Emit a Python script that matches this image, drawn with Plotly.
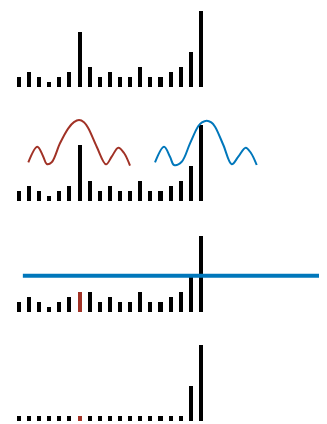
import plotly.graph_objects as go

# Data
categories = list(range(19))
values_1 = [2, 3, 2, 1, 2, 3, 11, 4, 2, 3, 2, 2, 4, 2, 2, 3, 4, 7, 15]
values_2 = [2, 3, 2, 1, 2, 3, 11, 4, 2, 3, 2, 2, 4, 2, 2, 3, 4, 7, 15]
values_3 = [2, 3, 2, 1, 2, 3, 4, 4, 2, 3, 2, 2, 4, 2, 2, 3, 4, 7, 15]
values_4 = [1, 1, 1, 1, 1, 1, 1, 1, 1, 1, 1, 1, 1, 1, 1, 1, 1, 7, 15]
highlight_index = 6

red_curve_x = [0.94, 1.83, 2.42, 2.76, 3.25, 4.07, 4.89, 5.45, 5.95, 6.44, 6.87, 7.70, 8.62, 9.18, 9.83, 10.40, 10.99]
red_curve_y = [7.63, 10.71, 8.74, 7.30, 7.63, 11.38, 14.34, 15.55, 15.98, 15.55, 14.34, 10.71, 7.24, 8.74, 10.51, 9.47, 6.96]
blue_curve_x = [13.46, 14.35, 14.94, 15.34, 16.10, 16.92, 17.74, 18.10, 18.57, 19.02, 19.39, 20.21, 21.04, 21.69, 22.42, 22.94, 23.51]
blue_curve_y = [7.63, 10.71, 8.74, 7.10, 7.75, 11.38, 14.79, 15.50, 15.84, 15.50, 14.65, 11.05, 7.24, 8.74, 10.51, 9.47, 7.10]
hline_x = [0.4, 33]
hline_y = [7.16, 7.16]

RED = "#a13226"
BLUE = "#0077bb"
BLACK = "#000000"

fig = go.Figure()

def bar_colors(n, hi=None):
    return [RED if (hi is not None and i == hi) else BLACK for i in range(n)]

panels = [
    (values_1, None),
    (values_2, None),
    (values_3, highlight_index),
    (values_4, highlight_index),
]

for k, (vals, hi) in enumerate(panels):
    ax = "" if k == 0 else str(k + 1)
    fig.add_trace(go.Bar(x=categories, y=vals, width=0.4,
                         marker=dict(color=bar_colors(len(vals), hi), line=dict(width=0)),
                         xaxis="x" + ax, yaxis="y" + ax, showlegend=False,
                         hoverinfo="skip"))

fig.add_trace(go.Scatter(x=red_curve_x, y=red_curve_y, mode="lines",
                         line=dict(color=RED, width=2, shape="spline", smoothing=1.0),
                         xaxis="x2", yaxis="y2", showlegend=False, hoverinfo="skip"))
fig.add_trace(go.Scatter(x=blue_curve_x, y=blue_curve_y, mode="lines",
                         line=dict(color=BLUE, width=2, shape="spline", smoothing=1.0),
                         xaxis="x2", yaxis="y2", showlegend=False, hoverinfo="skip"))
fig.add_trace(go.Scatter(x=hline_x, y=hline_y, mode="lines",
                         line=dict(color=BLUE, width=4),
                         xaxis="x3", yaxis="y3", showlegend=False, hoverinfo="skip"))

W = 327.0
H = 416.0
s = 5.07
# (top, bottom, baseline) in figure pixels
bands = [(0, 98, 79.3), (98, 204, 193.0), (204, 310, 304.0), (310, 416, 413.0)]
x0 = 10.8
step = 10.12
xr = [-x0 / step, (W - x0) / step]

layout = dict(width=W, height=H, margin=dict(l=0, r=0, t=0, b=0, pad=0),
              paper_bgcolor="white", plot_bgcolor="white", bargap=0)
for k, (top, bot, base) in enumerate(bands):
    ax = "" if k == 0 else str(k + 1)
    dom = [1 - bot / H, 1 - top / H]
    yr = [-(bot - base) / s, (base - top) / s]
    layout["xaxis" + ax] = dict(domain=[0, 1], range=xr, visible=False, fixedrange=True,
                                anchor="y" + ax)
    layout["yaxis" + ax] = dict(domain=dom, range=yr, visible=False, fixedrange=True,
                                anchor="x" + ax)
fig.update_layout(**layout)

fig.write_html("out.html", config={"displayModeBar": False})
